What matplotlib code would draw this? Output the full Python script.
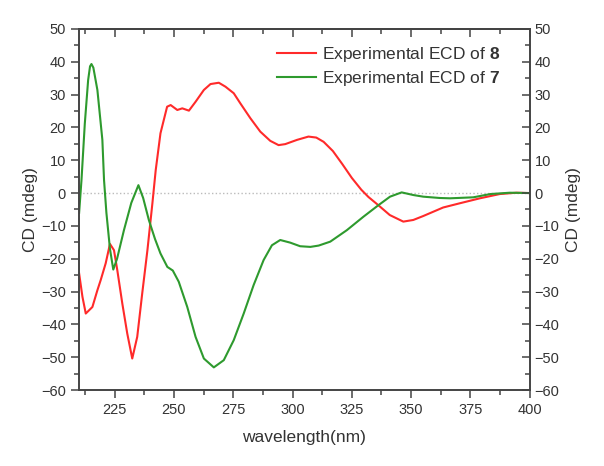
import numpy as np
import matplotlib
matplotlib.use('Agg')
import matplotlib.pyplot as plt
from matplotlib.ticker import MultipleLocator, NullFormatter

plt.rcParams['font.family'] = ['Liberation Sans', 'DejaVu Sans']
plt.rcParams['mathtext.fontset'] = 'custom'
plt.rcParams['mathtext.rm'] = 'Liberation Sans'
plt.rcParams['mathtext.bf'] = 'Liberation Sans:bold'

# ECD of 8 (red)
wl_8 = [210, 211.4, 212.8, 215.6, 217.7, 219.1, 221.2, 223.0, 224.7, 226.1, 228.2,
        230.3, 232.4, 234.5, 236.6, 238.8, 240.9, 242.3, 244.3, 247.1, 248.6, 251.4,
        253.5, 256.3, 259.1, 262.6, 265.4, 268.9, 271.7, 275.2, 278, 282.2, 286.4,
        290.6, 294.1, 296.9, 301.9, 306.7, 310, 313.1, 317, 321, 325, 329, 332,
        336, 341, 346.7, 350.9, 355.1, 363.5, 370.6, 379, 387.4, 394.4, 400]
cd_8 = [-24.5, -31.6, -36.7, -34.7, -29.6, -26.5, -21.4, -15.5, -17.4, -23.5, -33.6,
        -42.8, -50.4, -43.8, -30.6, -17.4, -3.1, 7, 18.2, 26.3, 26.8, 25.3,
        25.8, 25.1, 27.8, 31.4, 33.2, 33.6, 32.4, 30.4, 27.3, 22.8, 18.7,
        15.9, 14.6, 14.9, 16.2, 17.2, 16.9, 15.6, 12.8, 8.8, 4.6, 1, -1.2,
        -3.6, -6.7, -8.7, -8.2, -7.0, -4.4, -3.1, -1.6, -0.3, 0.1, 0]

# ECD of 7 (green)
wl_7 = [210, 211, 212.4, 213.8, 214.6, 215.2, 216, 217.7, 219.8, 220.5, 221.5, 223,
        224.4, 226, 228.9, 232, 235, 237, 239.4, 242, 244.3, 247.2, 249.5, 252,
        255.6, 259.1, 262.6, 266.8, 271, 275.2, 279.4, 283.6, 287.8, 291.3, 294.8,
        299, 303.2, 307.5, 311, 315.9, 322.9, 329.9, 336.2, 341.1, 346, 350.9,
        355.1, 362, 366.4, 376.2, 383.4, 391.6, 400]
cd_7 = [-6, 4, 21.2, 34.4, 38.6, 39.3, 38.2, 31.4, 16.2, 4, -6, -17,
        -23.3, -20, -11.3, -3, 2.4, -1.5, -8.2, -14, -18.4, -22.5, -23.6, -27,
        -34.7, -43.8, -50.4, -53.1, -50.9, -44.8, -36.7, -28, -20.4, -15.9, -14.3,
        -15.1, -16.2, -16.4, -16, -14.8, -11.3, -7.2, -3.7, -1.1, 0.2, -0.6,
        -1.1, -1.5, -1.6, -1.3, -0.3, 0.1, 0]

fig = plt.figure(figsize=(6.04, 4.66), dpi=100)
ax = fig.add_axes([0.131, 0.163, 0.746, 0.775])

ax.plot(wl_8, cd_8, color='#ff2a2a', lw=1.5, solid_joinstyle='round',
        label=r'Experimental ECD of $\mathbf{8}$')
ax.plot(wl_7, cd_7, color='#2e9a2e', lw=1.5, solid_joinstyle='round',
        label=r'Experimental ECD of $\mathbf{7}$')
ax.axhline(0, color='#bbbbbb', lw=1, ls=':', zorder=0)

ax.set_xlim(210, 400)
ax.set_ylim(-60, 50)
ax.xaxis.set_major_locator(MultipleLocator(25))
ax.xaxis.set_minor_locator(MultipleLocator(12.5))
ax.yaxis.set_major_locator(MultipleLocator(10))
ax.yaxis.set_minor_locator(MultipleLocator(5))

grey = '#333333'
edge = '#444444'
for s in ax.spines.values():
    s.set_color(edge)
    s.set_linewidth(1.2)
ax.tick_params(which='both', direction='out', colors=edge, labelcolor=grey,
               labelsize=10.5, width=1.1)
ax.tick_params(which='major', length=6)
ax.tick_params(which='minor', length=3.5)
ax.set_xlabel('wavelength(nm)', fontsize=12.5, color=grey, labelpad=9)
ax.set_ylabel('CD (mdeg)', fontsize=12.5, color=grey, labelpad=2)

# top axis: ticks only, pointing in
top = ax.secondary_xaxis('top')
top.xaxis.set_major_locator(MultipleLocator(25))
top.xaxis.set_minor_locator(MultipleLocator(12.5))
top.xaxis.set_major_formatter(NullFormatter())
top.tick_params(which='both', direction='in', colors=edge, width=1.1)
top.tick_params(which='major', length=6)
top.tick_params(which='minor', length=3.5)
top.spines['top'].set_color(edge)
top.spines['top'].set_linewidth(1.2)

ax2 = ax.twinx()
ax2.set_ylim(-60, 50)
ax2.yaxis.set_major_locator(MultipleLocator(10))
ax2.yaxis.set_minor_locator(MultipleLocator(5))
ax2.tick_params(which='both', direction='in', colors=edge, labelcolor=grey,
                labelsize=10.5, width=1.1)
ax2.tick_params(which='major', length=6)
ax2.tick_params(which='minor', length=3.5)
ax2.set_ylabel('CD (mdeg)', fontsize=12.5, color=grey, labelpad=5)
for s in ax2.spines.values():
    s.set_color(edge)
    s.set_linewidth(1.2)

ax.legend(loc='upper right', frameon=False, fontsize=12.5, handlelength=2.25,
          handletextpad=0.35, labelspacing=0.27, borderpad=0, borderaxespad=0,
          bbox_to_anchor=(0.935, 0.955), labelcolor=grey)

fig.savefig('out.png', dpi=100)
